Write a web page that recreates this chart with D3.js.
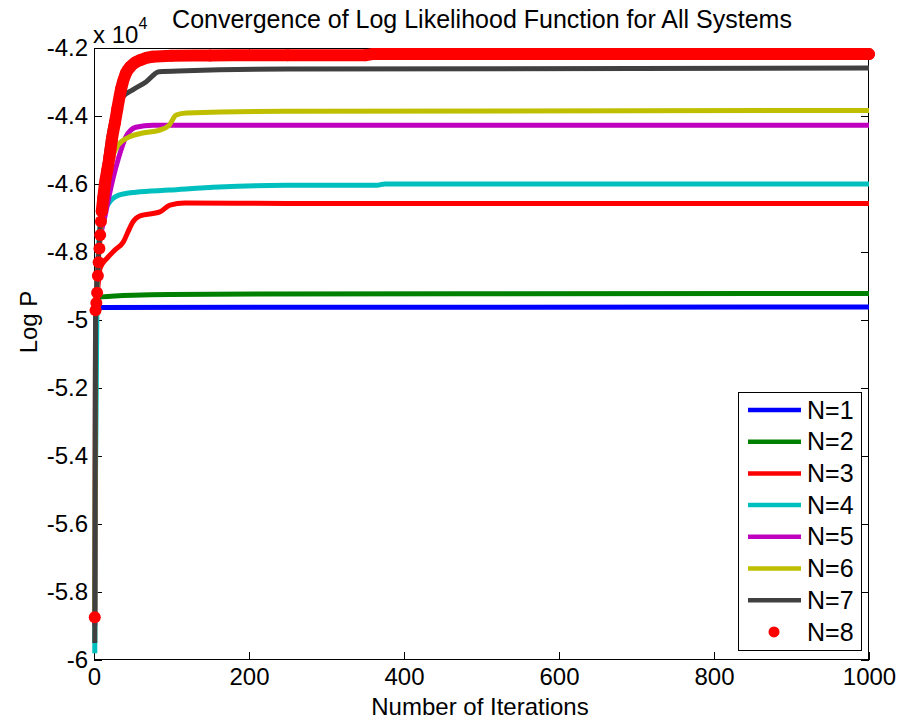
<!DOCTYPE html>
<html><head><meta charset="utf-8">
<script src="https://cdn.jsdelivr.net/npm/d3@7"></script>
<style>
body{margin:0;background:#fff}
text{font-family:"Liberation Sans",Arial,Helvetica,sans-serif;fill:#000}
</style>
</head><body>
<svg id="chart" width="901" height="723"></svg>
<script>
// ---- data (values in units of 10^4) ----
const titleText = "Convergence of Log Likelihood Function for All Systems";
const xLabelText = "Number of Iterations";
const yLabelText = "Log P";
const seriesNames = ["N=1","N=2","N=3","N=4","N=5","N=6","N=7","N=8"];
const seriesColors = ["#0000ff","#008000","#ff0000","#00bfbf","#bf00bf","#bfbf00","#404040","#ff0000"];
const iterTicks = [0,200,400,600,800,1000];
const logTicks = [-6,-5.8,-5.6,-5.4,-5.2,-5,-4.8,-4.6,-4.4,-4.2];
const logTickLabels = ["-6","-5.8","-5.6","-5.4","-5.2","-5","-4.8","-4.6","-4.4","-4.2"];

const n1 = [[1,-4.97],[3,-4.963],[1000,-4.962]];
const n2 = [[1,-4.96],[3,-4.94],[10,-4.932],[50,-4.927],[150,-4.924],[1000,-4.922]];
const n3 = [[1,-4.98],[3,-4.95],[8,-4.847],[17,-4.818],[27,-4.794],[38,-4.77],[44,-4.74],[50,-4.712],[59,-4.694],[85,-4.682],[98,-4.662],[117,-4.656],[250,-4.657],[1000,-4.657]];
const n4 = [[1,-5.98],[2,-5.45],[4,-4.9],[9,-4.707],[19,-4.657],[32,-4.633],[54,-4.624],[97,-4.618],[161,-4.609],[247,-4.604],[365,-4.604],[375,-4.6],[1000,-4.6]];
const n5 = [[1,-5.9],[2,-5.0],[6,-4.8],[15,-4.686],[24,-4.589],[32,-4.521],[41,-4.462],[54,-4.433],[76,-4.427],[1000,-4.427]];
const n6 = [[1,-5.86],[2,-5.0],[8,-4.75],[20,-4.55],[31,-4.486],[45,-4.462],[63,-4.45],[84,-4.442],[97,-4.427],[106,-4.397],[119,-4.391],[247,-4.386],[1000,-4.384]];
const n7 = [[1,-5.95],[2,-4.98],[5,-4.85],[10,-4.65],[20,-4.45],[30,-4.37],[37,-4.344],[50,-4.323],[67,-4.3],[84,-4.27],[119,-4.267],[250,-4.262],[1000,-4.259]];
const n8 = [[1,-5.874],[2,-4.971],[3,-4.95],[4,-4.92],[5,-4.87],[6,-4.83],[7,-4.79],[8,-4.75],[9,-4.71],[10,-4.68],[12,-4.64],[14,-4.6],[17,-4.56],[20,-4.52],[23,-4.47],[27,-4.42],[30,-4.38],[35,-4.32],[41,-4.275],[47,-4.255],[53,-4.243],[60,-4.235],[75,-4.226],[100,-4.223],[150,-4.222],[250,-4.221],[350,-4.221],[360,-4.218],[500,-4.218],[700,-4.218],[1000,-4.218]];
const lineSeries = [n1,n2,n3,n4,n5,n6,n7];

// ---- layout ----
const L = 94, R = 869, T = 48, B = 660;
const svg = d3.select("#chart");
const x = d3.scaleLinear().domain([0,1000]).range([L,R]);
const y = d3.scaleLinear().domain([-6,-4.2]).range([B,T]);

// axes
const gB = svg.append("g").attr("transform",`translate(0,${B})`)
  .call(d3.axisBottom(x).tickValues(iterTicks).tickSizeInner(-8).tickSizeOuter(0).tickPadding(8).tickFormat(d3.format("d")));
const gT = svg.append("g").attr("transform",`translate(0,${T})`)
  .call(d3.axisTop(x).tickValues(iterTicks).tickSizeInner(-8).tickSizeOuter(0).tickFormat(""));
const gL = svg.append("g").attr("transform",`translate(${L},0)`)
  .call(d3.axisLeft(y).tickValues(logTicks).tickSizeInner(-8).tickSizeOuter(0).tickPadding(6).tickFormat((d,i)=>logTickLabels[i]));
const gR = svg.append("g").attr("transform",`translate(${R},0)`)
  .call(d3.axisRight(y).tickValues(logTicks).tickSizeInner(-8).tickSizeOuter(0).tickFormat(""));
[gB,gT,gL,gR].forEach(g=>{
  g.select(".domain").remove();
  g.selectAll("line").attr("stroke","#000");
  g.selectAll("text").style("font-size","24px").attr("fill","#000");
});
svg.append("rect").attr("x",L+0.5).attr("y",T+0.5).attr("width",R-L-1).attr("height",B-T-1)
  .attr("fill","none").attr("stroke","#000").attr("stroke-width",1);

// lines
const line = d3.line().x(d=>x(d[0])).y(d=>y(d[1])).curve(d3.curveMonotoneX);
lineSeries.forEach((s,i)=>{
  svg.append("path").datum(s).attr("d",line).attr("fill","none")
    .attr("stroke",seriesColors[i]).attr("stroke-width",5)
    .attr("stroke-linejoin","round").attr("stroke-linecap","butt");
});
// N=8: dense markers -> thick band + dots at read points
svg.append("path").datum(n8.filter(d=>d[0]>=10)).attr("d",line).attr("fill","none")
  .attr("stroke",seriesColors[7]).attr("stroke-width",12)
  .attr("stroke-linejoin","round").attr("stroke-linecap","round");
svg.append("g").selectAll("circle").data(n8).join("circle")
  .attr("cx",d=>x(d[0])).attr("cy",d=>y(d[1])).attr("r",6).attr("fill",seriesColors[7]);

// title & labels
svg.append("text").attr("x",482).attr("y",28).attr("text-anchor","middle")
  .style("font-size","25px").text(titleText);
svg.append("text").attr("x",480).attr("y",715).attr("text-anchor","middle")
  .style("font-size","24px").text(xLabelText);
svg.append("text").attr("transform","translate(37,322) rotate(-90)").attr("text-anchor","middle")
  .style("font-size","24px").text(yLabelText);
const mult = svg.append("text").attr("x",93).attr("y",43).style("font-size","24px");
mult.append("tspan").text("x 10");
mult.append("tspan").attr("dy",-14).style("font-size","16px").text("4");

// legend
const lg = svg.append("g");
lg.append("rect").attr("x",738.5).attr("y",392.5).attr("width",123).attr("height",258)
  .attr("fill","#fff").attr("stroke","#000").attr("stroke-width",1);
seriesNames.forEach((nm,i)=>{
  const yy = 410 + i*31.7;
  if(i<7){
    lg.append("line").attr("x1",748).attr("x2",801).attr("y1",yy).attr("y2",yy)
      .attr("stroke",seriesColors[i]).attr("stroke-width",4.5);
  } else {
    lg.append("circle").attr("cx",774).attr("cy",yy).attr("r",5.5).attr("fill",seriesColors[i]);
  }
  lg.append("text").attr("x",807).attr("y",yy+8.6).style("font-size","25px").text(nm);
});
</script>
</body></html>
